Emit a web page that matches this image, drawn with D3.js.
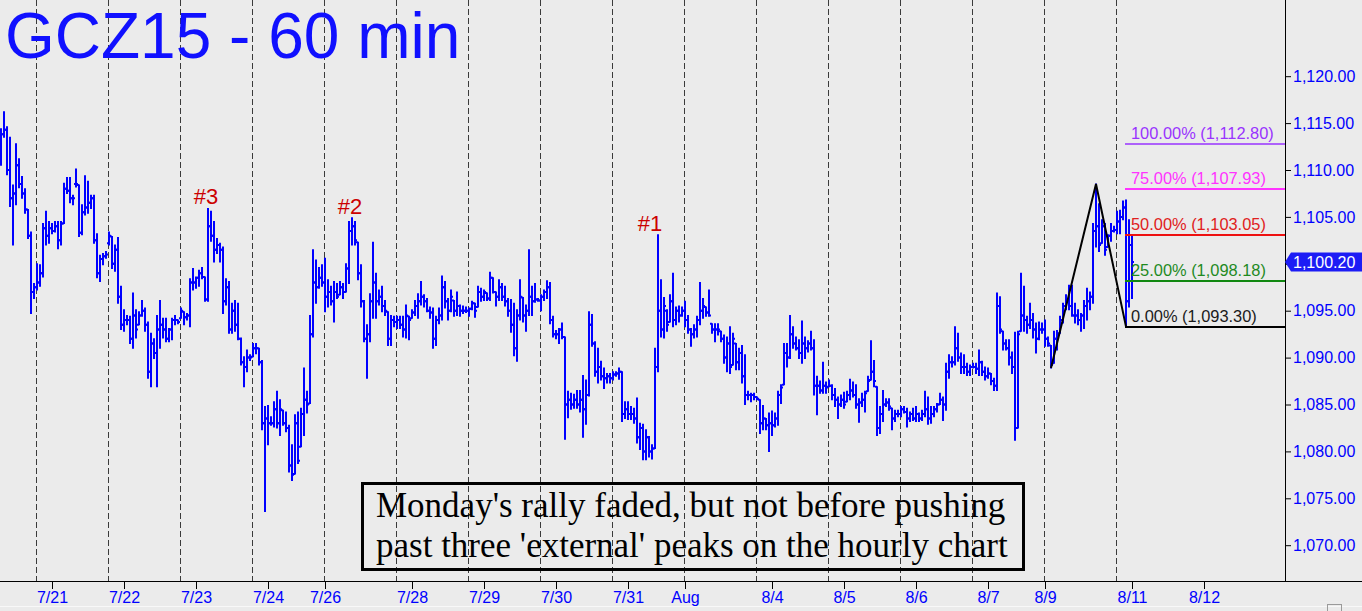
<!DOCTYPE html>
<html><head><meta charset="utf-8">
<script src="https://cdn.jsdelivr.net/npm/d3@7"></script>
<style>
html,body{margin:0;padding:0;background:#ebebeb;}
svg{display:block;}
</style></head><body>
<svg id="c" width="1362" height="611"></svg>
<script>
// ---------------- DATA (hourly OHLC, GCZ15) ----------------
const highs = [
1114.4,1116.2,1114.6,1113.5,1108.4,1112.8,1111.2,1109.3,1108.0,1105.8,1103.4,1097.9,
1100.0,1099.9,1104.3,1105.6,1104.5,1104.3,1104.5,1104.5,1104.5,1108.6,1109.2,1109.2,1107.3,1110.1,1108.4,1106.3,1109.4,1108.8,1107.3,1107.3,1103.2,1100.9,1101.1,1101.3,
1103.4,1102.9,1102.0,1102.8,1097.6,1095.1,1094.5,1094.4,1096.9,1095.1,1094.9,1096.1,1095.3,1093.8,1092.6,1092.0,1094.5,1096.1,1094.2,1094.2,1093.1,1094.2,1094.5,1094.0,
1095.3,1094.9,1094.7,1098.4,1099.5,1098.6,1099.3,1099.6,1098.6,1105.9,1105.6,1104.5,1102.7,1102.2,1101.8,1098.4,1098.1,1095.8,1096.1,1095.8,1092.1,1090.1,1090.8,1090.3,1091.5,
1091.5,1091.0,1089.7,1084.8,1084.9,1083.7,1085.3,1086.4,1085.5,1084.4,1084.2,1082.8,1080.7,1083.9,1084.2,1084.6,1088.9,1086.4,1094.5,1101.5,1100.4,1099.6,1099.9,1100.6,
1098.3,1097.6,1098.1,1097.9,1098.1,1097.9,1100.0,1104.5,1104.9,1104.5,1102.3,1099.9,1096.1,1093.5,1096.8,1102.3,1099.0,1097.2,1097.6,1096.1,1094.9,1094.5,1094.4,1094.4,
1094.4,1094.4,1095.6,1094.4,1095.1,1096.1,1096.8,1098.1,1096.7,1096.3,1095.4,1095.3,1094.4,1095.3,1098.7,1098.1,1096.3,1097.2,1096.1,1097.0,1095.6,1095.5,1095.4,1095.3,
1096.0,1095.8,1097.6,1097.4,1097.2,1096.9,1099.1,1098.5,1097.0,1098.3,1097.9,1097.6,1096.3,1096.2,1095.8,1095.1,1098.3,1096.4,1095.6,1101.5,1097.6,1097.9,1096.3,1096.7,
1097.2,1098.2,1098.0,1094.4,1092.9,1093.1,1093.7,1092.2,1086.4,1086.2,1086.1,1086.5,1086.5,1088.1,1087.6,1094.9,1094.6,1091.7,1091.0,1089.6,1088.9,1088.3,1088.3,1088.5,
1088.5,1088.9,1088.5,1085.3,1085.3,1084.8,1084.6,1085.7,1083.0,1082.9,1082.3,1081.6,1080.7,1091.0,1103.1,1098.3,1096.4,1095.1,1096.7,1099.0,1095.4,1095.5,1095.4,1096.0,
1094.5,1093.1,1093.5,1094.4,1098.0,1096.3,1095.4,1097.2,1093.6,1093.6,1093.6,1092.8,1092.4,1092.2,1093.3,1092.6,1091.5,1091.0,1091.3,1090.3,1086.4,1086.2,1086.2,1085.8,
1085.5,1084.9,1083.5,1084.1,1084.3,1084.1,1086.4,1087.1,1091.5,1091.5,1094.5,1093.3,1092.2,1091.9,1093.9,1092.2,1091.8,1092.8,1091.9,1088.0,1087.5,1089.5,1087.4,1087.6,
1087.1,1086.7,1085.8,1086.0,1086.3,1086.4,1087.7,1087.4,1087.1,1085.6,1086.2,1086.4,1088.0,1091.8,1089.7,1086.9,1084.8,1086.5,1085.6,1085.6,1084.6,1084.4,1084.4,1084.8,
1084.8,1084.6,1084.2,1084.6,1084.8,1084.1,1084.4,1086.4,1085.8,1084.8,1084.8,1085.1,1086.2,1085.8,1089.4,1090.3,1090.1,1093.3,1092.6,1090.5,1090.3,1089.4,1089.2,1089.4,
1089.4,1090.8,1089.6,1089.0,1088.9,1088.3,1087.8,1096.9,1096.5,1092.8,1091.9,1091.9,1090.6,1092.7,1092.8,1099.0,1097.6,1094.4,1095.8,1094.7,1093.7,1093.8,1093.7,1094.0,
1092.2,1091.3,1092.8,1092.9,1094.4,1095.8,1096.7,1097.7,1097.7,1095.8,1095.1,1094.7,1096.1,1097.4,1097.0,1104.3,1108.5,1106.4,1104.7,1104.3,1103.1,1104.3,1104.0,1105.6,
1105.7,1106.7,1106.8,1104.7,1102.9
];
const lows = [
1110.5,1113.5,1109.5,1106.1,1102.0,1106.3,1108.1,1107.0,1105.4,1102.7,1094.7,1096.3,
1097.2,1097.6,1098.6,1102.0,1102.2,1103.2,1103.4,1101.6,1102.0,1104.3,1107.5,1106.5,1106.3,1108.2,1102.9,1103.1,1105.2,1105.4,1105.9,1102.2,1098.5,1098.1,1099.9,1100.6,
1102.0,1099.5,1099.2,1095.8,1093.0,1092.8,1093.5,1091.5,1091.0,1092.1,1093.5,1094.4,1092.8,1087.8,1086.9,1089.9,1086.9,1091.0,1092.1,1091.7,1091.7,1091.9,1093.5,1093.6,
1094.2,1093.5,1094.0,1093.3,1097.2,1097.4,1097.6,1098.4,1096.0,1096.0,1102.4,1100.2,1101.1,1100.2,1094.7,1095.6,1092.6,1092.6,1092.8,1091.9,1089.2,1086.9,1088.5,1089.7,1090.1,
1090.4,1089.2,1082.3,1073.6,1080.7,1082.8,1082.6,1082.5,1081.7,1082.8,1082.1,1077.8,1076.9,1077.6,1078.7,1080.5,1081.7,1084.1,1085.1,1092.2,1095.8,1097.4,1097.6,1094.9,
1095.4,1095.6,1093.8,1096.3,1096.7,1096.3,1097.0,1097.9,1102.0,1102.0,1098.3,1095.4,1091.7,1087.8,1091.7,1094.2,1094.2,1095.6,1094.9,1094.5,1091.3,1091.3,1093.3,1093.1,
1093.1,1092.2,1092.1,1091.9,1094.2,1094.5,1094.2,1095.6,1095.4,1094.9,1094.2,1091.0,1091.3,1093.6,1094.0,1095.3,1094.0,1094.9,1094.4,1094.5,1094.4,1094.7,1094.8,1094.4,
1095.1,1094.3,1095.4,1096.0,1096.1,1096.1,1096.1,1096.9,1095.5,1096.1,1096.1,1095.5,1094.4,1092.7,1090.2,1089.6,1094.0,1093.8,1092.8,1094.5,1094.5,1095.9,1096.0,1095.0,
1096.1,1096.3,1093.6,1092.2,1092.0,1091.5,1092.0,1081.3,1083.6,1084.5,1084.6,1084.6,1084.2,1081.5,1082.9,1085.9,1091.2,1088.0,1087.3,1087.6,1086.7,1087.3,1087.3,1087.6,
1088.0,1087.7,1083.2,1083.5,1083.4,1083.4,1083.0,1080.9,1080.2,1079.1,1079.1,1079.4,1079.2,1080.3,1088.5,1092.2,1092.1,1092.8,1093.8,1093.3,1093.5,1093.8,1094.4,1093.3,
1092.6,1091.2,1092.1,1092.2,1093.5,1094.2,1094.4,1094.4,1092.6,1091.7,1092.4,1091.7,1089.4,1088.5,1088.3,1089.2,1088.7,1088.7,1087.3,1085.0,1085.5,1085.3,1085.5,1085.5,
1081.9,1082.3,1082.3,1080.0,1081.7,1082.6,1082.8,1085.1,1087.1,1089.0,1089.9,1091.0,1090.8,1089.9,1089.4,1089.9,1090.6,1090.8,1086.0,1083.9,1086.2,1086.2,1086.2,1086.9,
1085.5,1084.8,1083.5,1084.8,1084.6,1085.3,1085.5,1085.8,1084.6,1083.1,1084.8,1084.2,1086.4,1087.6,1086.9,1081.7,1081.9,1083.2,1084.8,1084.4,1082.3,1083.2,1083.7,1083.7,
1084.1,1082.6,1083.2,1083.3,1083.2,1083.2,1083.3,1083.7,1082.9,1083.0,1083.7,1084.2,1085.0,1083.3,1084.4,1087.8,1089.0,1089.2,1089.6,1088.3,1088.3,1088.1,1088.1,1088.9,
1088.3,1088.1,1088.1,1087.6,1087.8,1087.1,1086.5,1086.5,1092.6,1090.8,1090.8,1089.2,1088.3,1081.2,1082.5,1092.8,1092.8,1092.6,1093.1,1092.1,1090.5,1091.9,1092.6,1091.2,
1091.2,1088.9,1089.4,1090.8,1092.6,1093.7,1095.1,1095.1,1094.4,1093.7,1093.5,1092.8,1093.1,1094.0,1095.1,1095.8,1101.8,1101.3,1102.2,1100.9,1101.8,1102.4,1103.4,1103.2,
1103.2,1104.7,1093.3,1095.4,1096.3
];
const opens = [
1111.0,1113.8,1114.3,1110.0,1107.0,1107.5,1110.5,1108.5,1107.5,1105.8,1103.0,1097.0,
1097.5,1098.0,1099.0,1103.8,1103.0,1103.8,1103.5,1104.0,1102.5,1104.3,1108.0,1107.8,1107.0,1108.5,1108.4,1103.3,1105.5,1106.0,1106.5,1107.0,1102.5,1099.0,1100.5,1100.8,
1102.2,1102.9,1100.0,1101.5,1096.5,1093.5,1094.0,1094.0,1092.0,1094.5,1093.5,1094.5,1095.0,1093.5,1088.5,1091.5,1090.5,1093.0,1093.5,1093.0,1092.0,1093.0,1094.0,1094.0,
1094.2,1094.9,1094.3,1094.5,1098.0,1098.0,1098.5,1099.0,1098.6,1096.2,1104.0,1103.0,1101.5,1102.0,1101.5,1096.0,1097.5,1093.0,1095.0,1093.5,1092.0,1089.5,1089.0,1090.0,1090.1,
1091.0,1091.0,1089.5,1083.0,1083.5,1083.0,1083.0,1084.5,1083.0,1084.4,1083.0,1082.5,1078.5,1077.6,1083.0,1080.5,1084.0,1085.5,1085.1,1092.5,1098.0,1097.5,1098.5,1098.0,
1096.5,1097.0,1096.0,1097.0,1096.7,1097.5,1097.0,1099.5,1103.5,1104.0,1102.3,1099.0,1096.0,1092.0,1092.5,1096.0,1098.0,1096.0,1096.5,1095.5,1094.9,1092.0,1094.0,1093.8,
1094.0,1093.5,1093.0,1094.4,1094.2,1094.8,1095.5,1096.0,1096.5,1096.0,1095.0,1094.8,1092.0,1094.0,1094.5,1097.5,1096.0,1095.0,1096.1,1095.0,1095.5,1095.0,1095.0,1095.0,
1095.2,1095.8,1095.4,1097.0,1096.5,1096.9,1096.3,1098.5,1097.0,1096.5,1097.5,1096.5,1096.0,1095.0,1093.5,1091.0,1094.5,1096.4,1094.5,1095.0,1096.5,1096.0,1096.2,1096.1,
1096.5,1097.0,1097.5,1094.0,1092.5,1092.5,1093.0,1092.2,1085.0,1085.5,1085.0,1085.5,1085.0,1085.5,1084.5,1086.0,1093.5,1091.5,1088.5,1089.0,1088.0,1087.8,1088.0,1087.8,
1088.2,1088.3,1088.5,1084.0,1084.5,1084.0,1084.0,1083.5,1081.5,1082.5,1080.0,1081.5,1080.0,1080.3,1089.0,1095.0,1093.0,1095.0,1093.8,1096.0,1094.0,1095.0,1094.5,1095.0,
1094.0,1093.0,1092.5,1093.0,1094.0,1095.0,1095.4,1094.8,1093.6,1093.0,1093.0,1092.8,1092.0,1090.0,1091.5,1089.2,1091.5,1089.5,1090.5,1088.0,1086.0,1086.0,1086.0,1085.8,
1085.5,1083.0,1083.5,1082.8,1083.0,1082.8,1083.5,1086.0,1087.1,1090.5,1090.0,1092.5,1091.5,1091.0,1090.5,1091.5,1091.0,1091.5,1091.0,1087.0,1087.0,1086.5,1087.0,1086.9,
1087.0,1086.0,1085.5,1085.0,1085.5,1085.3,1086.0,1086.5,1086.0,1085.0,1085.2,1085.5,1086.4,1087.6,1088.5,1086.9,1082.5,1084.0,1085.0,1085.2,1084.6,1083.5,1084.0,1084.0,
1084.5,1084.2,1083.5,1084.0,1083.5,1084.0,1083.5,1084.0,1084.5,1083.5,1084.0,1084.5,1085.0,1085.5,1085.0,1088.5,1089.5,1089.5,1091.0,1090.0,1089.0,1089.0,1088.5,1089.0,
1089.0,1088.8,1089.5,1088.5,1088.0,1088.3,1087.5,1087.0,1095.5,1092.8,1091.5,1091.0,1090.0,1089.0,1082.5,1092.8,1094.5,1094.0,1093.5,1094.0,1093.0,1092.0,1093.0,1093.0,
1092.0,1091.3,1089.4,1092.0,1092.6,1094.0,1095.5,1096.0,1095.5,1094.5,1094.5,1094.0,1094.5,1095.5,1096.0,1096.5,1103.5,1104.0,1102.2,1104.0,1101.8,1103.0,1103.5,1103.6,
1104.5,1105.0,1106.0,1096.0,1102.0
];
const closes = [
1113.8,1114.3,1110.0,1107.0,1107.5,1110.5,1108.5,1107.5,1105.8,1103.0,1097.0,1097.5,
1098.0,1099.0,1103.8,1103.0,1103.8,1103.5,1104.0,1102.5,1104.3,1108.0,1107.8,1107.0,1107.0,1108.5,1103.3,1105.5,1106.0,1106.5,1107.0,1102.5,1099.0,1100.5,1100.8,1101.0,
1103.0,1100.0,1101.5,1096.5,1093.5,1094.0,1094.0,1092.0,1094.5,1093.0,1094.5,1095.0,1093.5,1088.5,1091.5,1090.5,1093.0,1093.5,1093.0,1092.0,1093.0,1094.0,1094.0,1093.8,
1095.0,1094.3,1094.5,1098.0,1098.0,1098.5,1099.0,1098.6,1096.2,1104.0,1103.0,1101.5,1102.0,1101.5,1096.0,1097.5,1093.0,1095.0,1093.5,1092.0,1089.5,1089.0,1090.0,1090.0,1091.0,
1091.0,1089.5,1083.0,1083.5,1083.0,1083.0,1084.5,1083.0,1084.5,1083.0,1082.5,1078.5,1077.5,1083.0,1079.0,1084.0,1085.5,1085.0,1092.5,1098.0,1097.5,1098.5,1098.0,1096.5,
1097.0,1096.0,1097.0,1096.5,1097.5,1097.0,1099.5,1103.5,1104.0,1102.5,1099.0,1096.0,1092.0,1092.5,1096.0,1098.0,1096.0,1096.5,1095.5,1095.0,1092.0,1094.0,1093.8,1094.0,
1093.5,1093.0,1094.5,1094.0,1094.8,1095.5,1096.0,1096.5,1096.0,1095.0,1094.8,1092.0,1094.0,1094.5,1097.5,1096.0,1095.0,1096.5,1095.0,1095.5,1095.0,1095.0,1095.0,1095.2,
1095.8,1095.0,1097.0,1096.5,1097.0,1096.3,1098.5,1097.0,1096.5,1097.5,1096.5,1096.0,1095.0,1093.5,1091.0,1094.5,1096.5,1094.5,1095.0,1096.5,1096.0,1096.2,1096.1,1096.5,
1097.0,1097.5,1094.0,1092.5,1092.5,1093.0,1092.2,1085.0,1085.5,1085.0,1085.5,1085.0,1085.5,1084.5,1086.0,1093.5,1091.5,1088.5,1089.0,1088.0,1087.8,1088.0,1087.8,1088.2,
1088.3,1088.5,1084.0,1084.5,1084.0,1084.0,1083.5,1081.5,1082.5,1080.0,1081.5,1080.0,1080.3,1089.0,1095.0,1093.0,1095.5,1093.5,1096.0,1094.0,1095.0,1094.5,1095.0,1094.0,
1093.0,1092.5,1093.0,1094.0,1095.0,1095.5,1094.8,1094.5,1093.0,1093.0,1093.0,1092.0,1090.0,1091.5,1089.0,1092.0,1089.5,1090.5,1088.0,1086.0,1086.0,1086.0,1085.8,1085.6,
1083.0,1083.5,1082.8,1083.0,1082.8,1083.5,1086.0,1086.8,1090.5,1090.0,1092.5,1091.5,1091.0,1090.5,1091.5,1091.0,1091.5,1091.0,1087.0,1087.0,1086.5,1087.0,1086.8,1087.0,
1086.0,1085.5,1085.0,1085.5,1085.0,1086.0,1086.5,1086.0,1085.0,1085.2,1085.5,1086.2,1087.5,1088.5,1087.5,1082.5,1084.0,1085.0,1085.2,1084.8,1083.5,1084.0,1084.0,1084.5,
1084.2,1083.5,1084.0,1083.5,1084.0,1083.5,1084.0,1084.5,1083.5,1084.0,1084.5,1085.0,1085.5,1085.0,1088.5,1089.5,1089.5,1091.0,1090.0,1089.0,1089.0,1088.5,1089.0,1089.0,
1088.8,1089.5,1088.5,1088.0,1088.3,1087.5,1087.0,1095.5,1093.0,1091.5,1091.0,1090.0,1089.0,1082.5,1092.5,1094.5,1094.0,1093.5,1094.0,1093.0,1092.0,1093.0,1093.0,1092.0,
1091.5,1089.2,1092.0,1092.5,1094.0,1095.5,1096.0,1095.5,1094.5,1094.5,1094.0,1094.5,1095.5,1096.0,1096.5,1103.5,1104.0,1102.0,1104.0,1101.5,1103.0,1103.5,1103.6,1104.5,
1105.0,1106.0,1096.0,1102.0,1100.2
];

// session (day) boundaries, as bar indices
const sessionStarts = [12,36,60,84,108,132,156,180,204,228,252,276,300,324,348,372];
// date axis
const dateLabels = ["7/21","7/22","7/23","7/24","7/26","7/28","7/29","7/30","7/31","Aug","8/4","8/5","8/6","8/7","8/9","8/11","8/12"];
const dateIdx    = [17,41,65,89,108,137,161,185,209,228,257,281,305,329,348,377,401];
// price axis
const yTicks = [1070,1075,1080,1085,1090,1095,1100,1105,1110,1115,1120];
const lastPrice = 1100.20;
// peak annotations
const peakLabels = ["#3","#2","#1"];
const peakIdx    = [69,117,219];
// swing used for the Fibonacci projection
const swingIdx  = [350,365,375];
const swingVals = [1088.9,1108.5,1093.3];
// Fibonacci levels
const fibPct  = ["100.00%","75.00%","50.00%","25.00%","0.00%"];
const fibVals = [1112.80,1107.93,1103.05,1098.18,1093.30];

// ---------------- DRAW ----------------
const W = 1362, H = 611, plotR = 1285, axisY = 581;
const BG = "#ebebeb", BLUE = "#0000ff";
const FONT = "'Liberation Sans', Arial, sans-serif";
const svg = d3.select("#c");
svg.append("rect").attr("width", W).attr("height", H).attr("fill", BG);

const x = d3.scaleLinear().domain([0, 377]).range([1, 1132]);
const y = d3.scaleLinear().domain([1070, 1120]).range([545.2, 76.2]);

svg.append("clipPath").attr("id", "plotclip")
  .append("rect").attr("x", 0).attr("y", 0).attr("width", plotR).attr("height", axisY);
const plot = svg.append("g").attr("clip-path", "url(#plotclip)");

// session dashed separators
plot.selectAll("line.sess").data(sessionStarts).join("line")
  .attr("class", "sess")
  .attr("x1", d => Math.round(x(d)) - 0.5).attr("x2", d => Math.round(x(d)) - 0.5)
  .attr("y1", 0).attr("y2", axisY)
  .attr("stroke", "#3a3a3a").attr("stroke-width", 1).attr("stroke-dasharray", "6,3");

// OHLC bars
const idx = d3.range(highs.length);
plot.append("g").selectAll("path").data(idx).join("path")
  .attr("d", i => {
    const px = Math.round(x(i));
    const yh = y(highs[i]), yl = y(lows[i]), yo = y(opens[i]), yc = y(closes[i]);
    return `M${px},${yh - 0.5}V${yl + 0.5}M${px - 2},${yo}H${px}M${px},${yc}H${px + 2}`;
  })
  .attr("fill", "none").attr("stroke", BLUE).attr("stroke-width", 2);

// swing zig-zag
plot.append("path")
  .datum(swingIdx.map((d, k) => [d, swingVals[k]]))
  .attr("d", d3.line().x(d => x(d[0])).y(d => y(d[1])))
  .attr("fill", "none").attr("stroke", "#000").attr("stroke-width", 2);

// Fibonacci lines & labels
const fibLine = ["#9933ff", "#ff33ff", "#ee1111", "#118811", "#000000"];
const fibText = ["#9933ff", "#ff33ff", "#e02020", "#1f8a1f", "#1a1a1a"];
const fibW = [1.5, 2, 2, 2, 2];
const fx0 = Math.round(x(swingIdx[2])) - 1;
fibVals.forEach((v, k) => {
  const yy = Math.round(y(v));
  svg.append("line").attr("x1", fx0).attr("x2", plotR).attr("y1", yy).attr("y2", yy)
    .attr("stroke", fibLine[k]).attr("stroke-width", fibW[k]);
  svg.append("text").attr("x", fx0 + 6).attr("y", yy - 5)
    .attr("font-family", FONT).attr("font-size", 16.4).attr("fill", fibText[k])
    .text(`${fibPct[k]} (${d3.format(",.2f")(v)})`);
});

// peak annotations
const peakDx = [-2, -2, -8];
peakLabels.forEach((t, k) => {
  const i = peakIdx[k];
  svg.append("text").attr("x", x(i) + peakDx[k]).attr("y", y(highs[i]) - 4)
    .attr("text-anchor", "middle").attr("font-family", FONT).attr("font-size", 22)
    .attr("fill", "#cc0000").text(t);
});

// right price axis
svg.append("line").attr("x1", plotR + 0.5).attr("x2", plotR + 0.5).attr("y1", 0).attr("y2", axisY)
  .attr("stroke", "#000").attr("stroke-width", 1);
const yAxis = svg.append("g").attr("transform", `translate(${plotR},0)`)
  .call(d3.axisRight(y).tickValues(yTicks).tickSize(6).tickPadding(2).tickFormat(d3.format(",.2f")));
yAxis.select(".domain").remove();
yAxis.selectAll("line").attr("stroke", "#000");
yAxis.selectAll("text").attr("font-family", FONT).attr("font-size", 16).attr("fill", BLUE);

// last price marker
const yc = y(lastPrice);
svg.append("path")
  .attr("d", `M${plotR},${yc}L${plotR + 6},${yc - 9.5}H${W}V${yc + 9.5}H${plotR + 6}Z`)
  .attr("fill", "#1c1cf5");
svg.append("text").attr("x", plotR + 8).attr("y", yc).attr("dy", "0.35em")
  .attr("font-family", FONT).attr("font-size", 16).attr("fill", "#ffffff")
  .text(d3.format(",.2f")(lastPrice));

// bottom date axis
svg.append("line").attr("x1", 0).attr("x2", W).attr("y1", axisY + 0.5).attr("y2", axisY + 0.5)
  .attr("stroke", "#000").attr("stroke-width", 1);
const xAxis = svg.append("g").attr("transform", `translate(0,${axisY})`)
  .call(d3.axisBottom(x).tickValues(dateIdx).tickSize(8).tickPadding(3)
    .tickFormat((d, k) => dateLabels[k]));
xAxis.select(".domain").remove();
xAxis.selectAll("line").attr("stroke", "#000");
xAxis.selectAll("text").attr("font-family", FONT).attr("font-size", 16).attr("fill", BLUE);

// bottom scrollbar strip
svg.append("line").attr("x1", 0).attr("x2", W).attr("y1", 606.5).attr("y2", 606.5)
  .attr("stroke", "#f8f8f8").attr("stroke-width", 1);
svg.append("rect").attr("x", 1327.5).attr("y", 604.5).attr("width", 14).attr("height", 10)
  .attr("fill", "none").attr("stroke", "#9a9a9a");

// comment box
svg.append("rect").attr("x", 362.5).attr("y", 483.5).attr("width", 661).attr("height", 86)
  .attr("fill", "none").attr("stroke", "#000").attr("stroke-width", 3);
const SERIF = "'Liberation Serif', 'Times New Roman', serif";
svg.append("text").attr("x", 376).attr("y", 517).attr("font-family", SERIF).attr("font-size", 35)
  .attr("fill", "#000").text("Monday's rally faded, but not before pushing");
svg.append("text").attr("x", 376).attr("y", 557).attr("font-family", SERIF).attr("font-size", 35)
  .attr("fill", "#000").text("past three 'external' peaks on the hourly chart");

// title
svg.append("text").attr("x", 5).attr("y", 58).attr("font-family", FONT).attr("font-size", 64)
  .attr("fill", "#1010ff").text("GCZ15 - 60 min");
</script>
</body></html>
